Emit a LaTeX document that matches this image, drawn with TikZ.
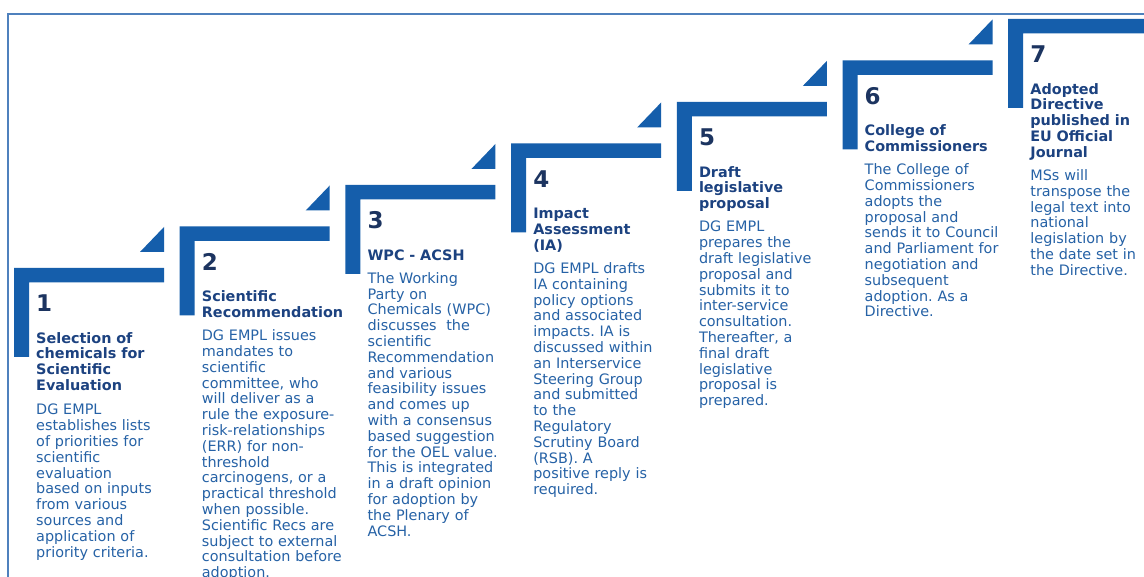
\documentclass[tikz,border=0pt]{standalone}
\usepackage{fontspec}
\setmainfont{DejaVu Sans}
\frenchspacing
\definecolor{barblue}{RGB}{21,94,171}
\definecolor{numc}{RGB}{28,52,96}
\definecolor{headc}{RGB}{28,66,128}
\definecolor{bodyc}{RGB}{38,98,166}
\definecolor{framec}{RGB}{79,129,189}
\tikzset{
  stepnum/.style={anchor=base west, inner sep=0pt, font=\fontsize{23}{26}\selectfont\bfseries, text=numc},
  stephead/.style={anchor=north west, inner sep=0pt, text width=160pt, align=left, font=\fontsize{14.4}{15.8}\selectfont\bfseries, text=headc},
  stepbody/.style={anchor=north west, inner sep=0pt, text width=160pt, align=left, font=\fontsize{14.4}{15.8}\selectfont, text=bodyc},
  stepshape/.style={fill=barblue, draw=none},
  framestyle/.style={draw=framec, line width=2pt}
}
\begin{document}
\begin{tikzpicture}[x=1pt,y=-1pt]
\useasboundingbox (0,0) rectangle (1144,577);
\clip (0,0) rectangle (1144,577);
\fill[white] (0,0) rectangle (1144,577);
% frame
\draw[framestyle] (8,600) -- (8,14) -- (1160,14);
% step shapes
\foreach \i in {0,...,6}{
  \pgfmathsetmacro\sx{14+165.7*\i}
  \pgfmathsetmacro\sy{268-41.5*\i}
  \fill[stepshape] (\sx,\sy) -- ++(150,0) -- ++(0,14.5) -- ++(-135,0) -- ++(0,74.5) -- ++(-15,0) -- cycle;
}
\foreach \i in {0,...,5}{
  \pgfmathsetmacro\sx{14+165.7*\i}
  \pgfmathsetmacro\sy{268-41.5*\i}
  \fill[stepshape] (\sx+126,\sy-16) -- (\sx+150,\sy-16) -- (\sx+150,\sy-41) -- cycle;
}
% step 1
\node[stepnum] (n1) at (36,312) {1};
\node[stephead] (h1) at (36,331.94) {\strut Selection of\\chemicals for\\Scientific\\Evaluation\strut};
\node[stepbody] (b1) at ([yshift=-8pt]h1.south west) {\strut DG EMPL\\establishes lists\\of priorities for\\scientific\\evaluation\\based on inputs\\from various\\sources and\\application of\\priority criteria.\strut};
% step 2
\node[stepnum] (n2) at (201.7,270.5) {2};
\node[stephead] (h2) at (201.7,290.44) {\strut Scientific\\Recommendation\strut};
\node[stepbody] (b2) at ([yshift=-7pt]h2.south west) {\strut DG EMPL issues\\mandates to\\scientific\\committee, who\\will deliver as a\\rule the exposure-\\risk-relationships\\(ERR) for non-\\threshold\\carcinogens, or a\\practical threshold\\when possible.\\Scientific Recs are\\subject to external\\consultation before\\adoption.\strut};
% step 3
\node[stepnum] (n3) at (367.4,229) {3};
\node[stephead] (h3) at (367.4,248.94) {\strut WPC - ACSH\strut};
\node[stepbody] (b3) at ([yshift=-7pt]h3.south west) {\strut The Working\\Party on\\Chemicals (WPC)\\discusses~ the\\scientific\\Recommendation\\and various\\feasibility issues\\and comes up\\with a consensus\\based suggestion\\for the OEL value.\\This is integrated\\in a draft opinion\\for adoption by\\the Plenary of\\ACSH.\strut};
% step 4
\node[stepnum] (n4) at (533.1,187.5) {4};
\node[stephead] (h4) at (533.1,207.44) {\strut Impact\\Assessment\\(IA)\strut};
\node[stepbody] (b4) at ([yshift=-7pt]h4.south west) {\strut DG EMPL drafts\\IA containing\\policy options\\and associated\\impacts. IA is\\discussed within\\an Interservice\\Steering Group\\and submitted\\to the\\Regulatory\\Scrutiny Board\\(RSB). A\\positive reply is\\required.\strut};
% step 5
\node[stepnum] (n5) at (698.8,146) {5};
\node[stephead] (h5) at (698.8,165.94) {\strut Draft\\legislative\\proposal\strut};
\node[stepbody] (b5) at ([yshift=-7pt]h5.south west) {\strut DG EMPL\\prepares the\\draft legislative\\proposal and\\submits it to\\inter-service\\consultation.\\Thereafter, a\\final draft\\legislative\\proposal is\\prepared.\strut};
% step 6
\node[stepnum] (n6) at (864.5,104.5) {6};
\node[stephead] (h6) at (864.5,124.44) {\strut College of\\Commissioners\strut};
\node[stepbody] (b6) at ([yshift=-7pt]h6.south west) {\strut The College of\\Commissioners\\adopts the\\proposal and\\sends it to Council\\and Parliament for\\negotiation and\\subsequent\\adoption. As a\\Directive.\strut};
% step 7
\node[stepnum] (n7) at (1030.2,63) {7};
\node[stephead] (h7) at (1030.2,82.94) {\strut Adopted\\Directive\\published in\\EU Official\\Journal\strut};
\node[stepbody] (b7) at ([yshift=-7pt]h7.south west) {\strut MSs will\\transpose the\\legal text into\\national\\legislation by\\the date set in\\the Directive.\strut};
\end{tikzpicture}
\end{document}
